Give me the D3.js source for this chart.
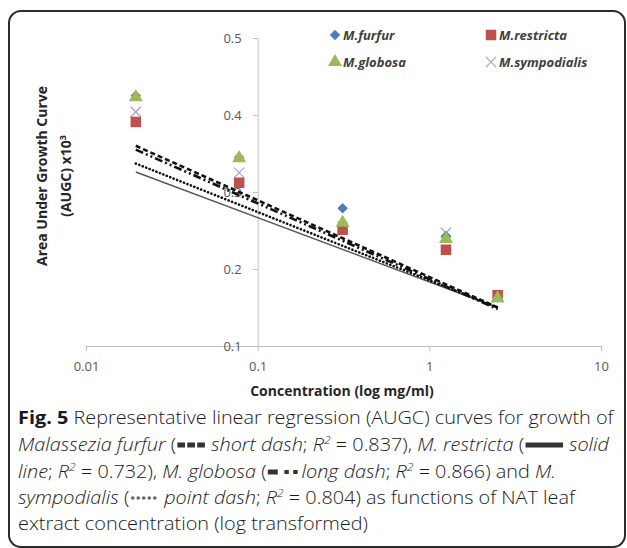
<!DOCTYPE html>
<html>
<head>
<meta charset="utf-8">
<script src="https://cdn.jsdelivr.net/npm/d3@7"></script>
<style>
  body { margin: 0; background: #fff; }
  svg { display: block; }
  .tick text { font-family: "Open Sans", sans-serif; font-size: 13px; fill: #595959; }
  .tick line, .domain { stroke: #bfbfbf; }
</style>
</head>
<body>
<svg id="chart" width="627" height="548"></svg>
<script>
// data
var conc = [0.0195, 0.078, 0.3125, 1.25, 2.5];
var furfur = [0.425, 0.345, 0.279, 0.243, 0.163];
var restricta = [0.391, 0.312, 0.251, 0.225, 0.166];
var globosa = [0.423, 0.344, 0.260, 0.239, 0.162];
var sympodialis = [0.404, 0.325, 0.255, 0.247, 0.163];

// regression lines: value at first and last concentration
var fitFurfur = [0.360, 0.150];
var fitRestricta = [0.326, 0.150];
var fitGlobosa = [0.355, 0.148];
var fitSympodialis = [0.337, 0.150];

var xTicks = [0.01, 0.1, 1, 10];
var yTicks = [0.1, 0.2, 0.3, 0.4, 0.5];

var svg = d3.select("#chart");

// frame
svg.append("rect")
  .attr("x", 9).attr("y", 11)
  .attr("width", 616).attr("height", 536)
  .attr("rx", 12)
  .attr("fill", "none")
  .attr("stroke", "#2b2b2b")
  .attr("stroke-width", 2);

var x = d3.scaleLog().domain([0.01, 10]).range([86, 601]);
var y = d3.scaleLinear().domain([0.1, 0.5]).range([346, 38]);

// axes
var xAxis = d3.axisBottom(x).tickValues(xTicks)
  .tickFormat(function(d){ return d < 1 ? d3.format(".2~f")(d) : String(d); })
  .tickSize(5).tickPadding(11);
svg.append("g")
  .attr("class", "xaxis")
  .attr("transform", "translate(0," + y(0.1) + ")")
  .call(xAxis);

var yAxis = d3.axisLeft(y).tickValues(yTicks)
  .tickFormat(d3.format(".1f"))
  .tickSize(5).tickSizeOuter(0).tickPadding(11);
svg.append("g")
  .attr("class", "yaxis")
  .attr("transform", "translate(" + x(0.1) + ",0)")
  .call(yAxis);

// axis titles
svg.append("text")
  .attr("x", 342).attr("y", 396)
  .attr("text-anchor", "middle")
  .style("font-family", "Open Sans, sans-serif")
  .style("font-size", "14px").style("font-weight", "bold").style("fill", "#262626")
  .text("Concentration (log mg/ml)");

var yt = svg.append("g").attr("transform", "translate(47,176) rotate(-90)")
  .style("font-family", "Open Sans, sans-serif")
  .style("font-size", "14px").style("font-weight", "bold").style("fill", "#262626");
yt.append("text").attr("text-anchor", "middle").attr("y", 0).text("Area Under Growth Curve");
var yt2 = yt.append("text").attr("text-anchor", "middle").attr("y", 24);
yt2.append("tspan").text("(AUGC) x10");
yt2.append("tspan").attr("dy", -5).style("font-size", "9px").text("3");

// regression lines
var fits = [
  {v: fitRestricta, color: "#555", width: 1.4, dash: null, cap: "butt"},
  {v: fitSympodialis, color: "#111", width: 2.6, dash: "0.1,3.6", cap: "round"},
  {v: fitGlobosa, color: "#111", width: 2.6, dash: "8,3,2,3,2,3", cap: "butt"},
  {v: fitFurfur, color: "#111", width: 2.6, dash: "5,3", cap: "butt"}
];
var line = d3.line()
  .x(function(d){ return x(d[0]); })
  .y(function(d){ return y(d[1]); });
fits.forEach(function(f){
  svg.append("path")
    .datum([[conc[0], f.v[0]], [conc[conc.length - 1], f.v[1]]])
    .attr("d", line)
    .attr("fill", "none")
    .attr("stroke", f.color)
    .attr("stroke-width", f.width)
    .attr("stroke-linecap", f.cap)
    .attr("stroke-dasharray", f.dash);
});

// markers
var blue = "#4a7ebb", red = "#c0504d", green = "#9bbb59", lav = "#b3a2c7";
var sym = {
  diamond: d3.symbol().type(d3.symbolDiamond2).size(70),
  square: d3.symbol().type(d3.symbolSquare).size(110),
  triangle: d3.symbol().type(d3.symbolTriangle).size(85),
  cross: d3.symbol().type(d3.symbolX).size(70)
};

var series = [
  {name: "M.sympodialis", vals: sympodialis, shape: "cross", color: lav},
  {name: "M.furfur", vals: furfur, shape: "diamond", color: blue},
  {name: "M.restricta", vals: restricta, shape: "square", color: red},
  {name: "M.globosa", vals: globosa, shape: "triangle", color: green}
];

function drawMark(sel, s) {
  sel.attr("d", sym[s.shape]);
  if (s.shape === "cross") {
    sel.attr("fill", "none").attr("stroke", s.color).attr("stroke-width", 1.3);
  } else {
    sel.attr("fill", s.color);
  }
}

series.forEach(function(s){
  svg.append("g").selectAll("path")
    .data(s.vals)
    .enter().append("path")
    .attr("transform", function(d, i){ return "translate(" + x(conc[i]) + "," + y(d) + ")"; })
    .each(function(){ drawMark(d3.select(this), s); });
});

// legend
var legendItems = [
  {s: series[1], lx: 335, ly: 35},
  {s: series[2], lx: 491, ly: 35},
  {s: series[3], lx: 335, ly: 62},
  {s: series[0], lx: 491, ly: 62}
];
legendItems.forEach(function(it){
  var g = svg.append("g").attr("transform", "translate(" + it.lx + "," + it.ly + ")");
  drawMark(g.append("path"), it.s);
  g.append("text")
    .attr("x", 8).attr("y", 5)
    .style("font-family", "Open Sans, sans-serif")
    .style("font-size", "13px").style("font-weight", "bold").style("font-style", "italic")
    .style("fill", "#404040")
    .text(it.s.name);
});

// caption ("sym" spans are blank slots where the line keys get drawn)
var capLines = [
  [{t: "Fig. 5", b: 1}, {t: " Representative linear regression (AUGC) curves for growth of"}],
  [{t: "Malassezia furfur", i: 1}, {t: " ("}, {sym: "short", n: 3}, {t: " short dash", i: 1}, {t: "; "}, {t: "R", i: 1}, {t: "2", sup: 1}, {t: " = 0.837), "}, {t: "M. restricta", i: 1}, {t: " ("}, {sym: "solid", n: 4}, {t: " solid", i: 1}],
  [{t: "line", i: 1}, {t: "; "}, {t: "R", i: 1}, {t: "2", sup: 1}, {t: " = 0.732), "}, {t: "M. globosa", i: 1}, {t: " ("}, {sym: "long", n: 3}, {t: " long dash", i: 1}, {t: "; "}, {t: "R", i: 1}, {t: "2", sup: 1}, {t: " = 0.866) and "}, {t: "M.", i: 1}],
  [{t: "sympodialis", i: 1}, {t: " ("}, {sym: "point", n: 3}, {t: " point dash", i: 1}, {t: "; "}, {t: "R", i: 1}, {t: "2", sup: 1}, {t: " = 0.804) as functions of NAT leaf"}],
  [{t: "extract concentration (log transformed)"}]
];
var capY = [424, 451, 478, 504, 530];

var capG = svg.append("g")
  .style("font-family", "Open Sans, sans-serif")
  .style("font-size", "18px")
  .style("font-weight", "300")
  .style("fill", "#1a1a1a");

var slots = [];
var capTexts = capLines.map(function(segs, li){
  var t = capG.append("text").attr("x", 0).attr("y", capY[li]);
  var idx = 0;
  var afterSup = false;
  segs.forEach(function(sg){
    var txt = sg.sym ? d3.range(sg.n).map(function(){ return "\u2002"; }).join("") : sg.t;
    var ts = t.append("tspan").text(txt);
    if (afterSup) { ts.attr("dy", 7); afterSup = false; }
    if (sg.b) ts.style("font-weight", "bold");
    if (sg.i) ts.style("font-style", "italic");
    if (sg.sup) {
      ts.attr("dy", -7).style("font-size", "11px").style("font-style", "italic");
      afterSup = true;
    }
    if (sg.sym) slots.push({text: t, from: idx, to: idx + txt.length - 1, kind: sg.sym, y: capY[li]});
    idx += txt.length;
  });
  return t;
});

// draw line keys in the blank slots
slots.forEach(function(sl){
  var n = sl.text.node();
  var x0 = n.getStartPositionOfChar(sl.from).x + 1;
  var x1 = n.getEndPositionOfChar(sl.to).x - 1;
  var cy = sl.y - 6;
  var kg = capG.append("g");
  if (sl.kind === "short") {
    var w = (x1 - x0 - 4) / 3;
    [0, 1, 2].forEach(function(j){
      kg.append("rect").attr("x", x0 + j * (w + 2)).attr("y", cy - 2.5)
        .attr("width", w).attr("height", 5).attr("fill", "#333");
    });
  } else if (sl.kind === "solid") {
    kg.append("rect").attr("x", x0).attr("y", cy - 2.5)
      .attr("width", x1 - x0).attr("height", 5).attr("fill", "#333");
  } else if (sl.kind === "long") {
    kg.append("rect").attr("x", x0).attr("y", cy - 2.5)
      .attr("width", 9).attr("height", 5).attr("fill", "#333");
    [15, 23].forEach(function(dx){
      kg.append("rect").attr("x", x0 + dx).attr("y", cy - 2)
        .attr("width", 4).attr("height", 4).attr("fill", "#333");
    });
  } else if (sl.kind === "point") {
    d3.range(5).forEach(function(j){
      kg.append("circle").attr("cx", x0 + 2 + j * 5).attr("cy", cy)
        .attr("r", 1.7).attr("fill", "#666");
    });
  }
});

// squeeze the caption horizontally so the first line spans the box
var w0 = capTexts[0].node().getComputedTextLength();
var k = 596 / w0;
capG.attr("transform", "translate(18,0) scale(" + k + ",1)");
</script>
</body>
</html>
